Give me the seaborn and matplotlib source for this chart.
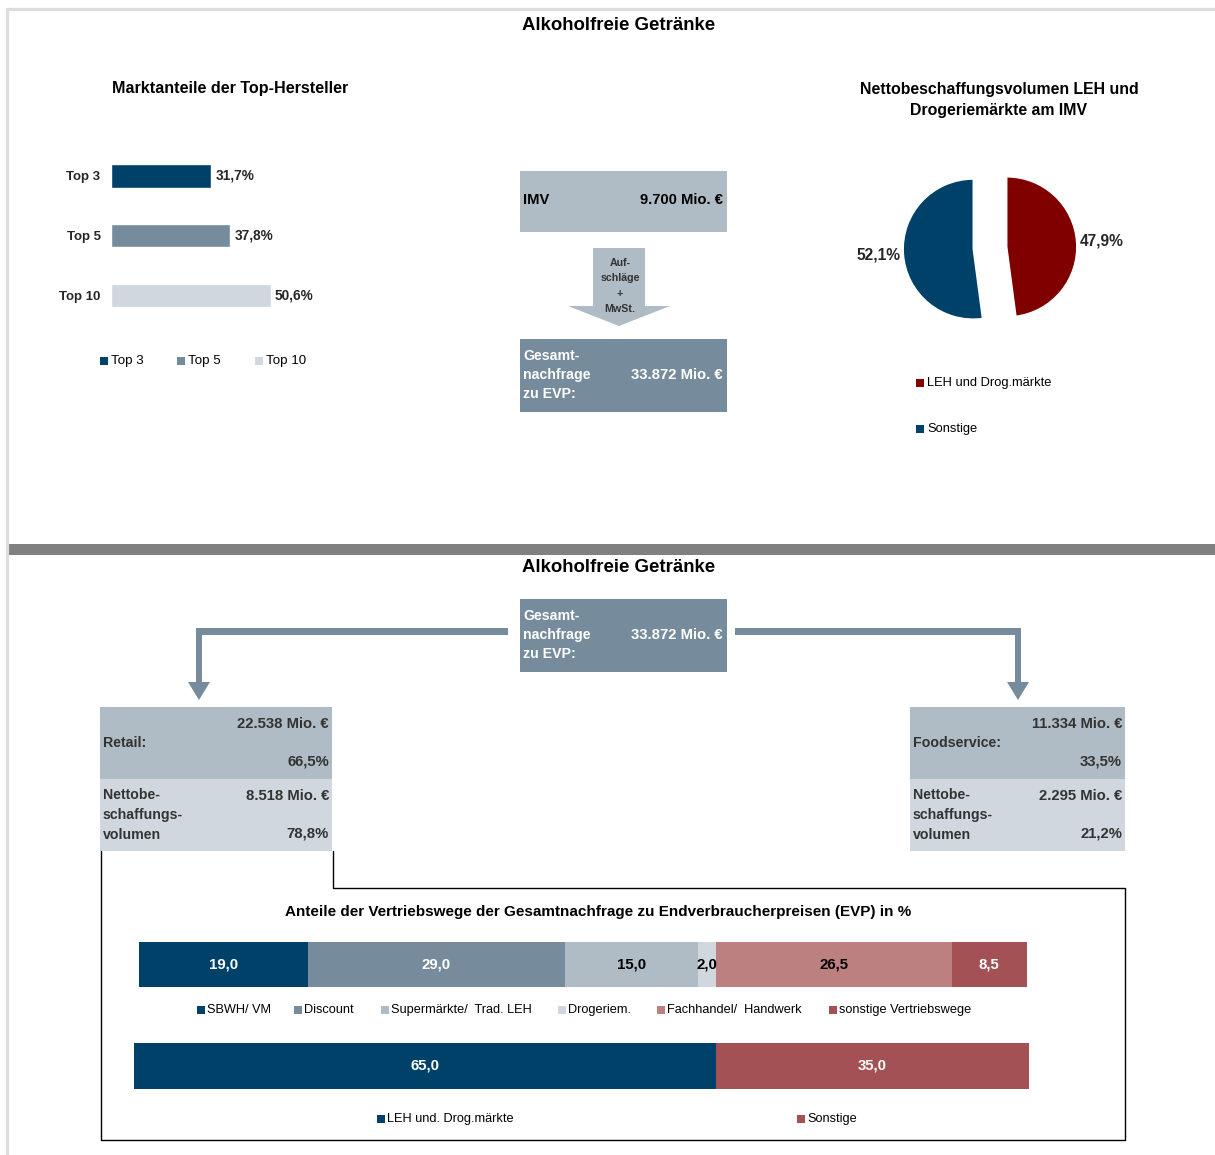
"""
Alkoholfreie Getraenke - Marktanteile, IMV und Vertriebswege
"""
#---------------------------------------------
# Import the libraries
import matplotlib
matplotlib.use("Agg")
import matplotlib.pyplot as plt
from matplotlib.patches import Rectangle, Polygon
import seaborn as sns
import pandas as pd

#---------------------------------------------
# Data
title = "Alkoholfreie Getränke"

top_labels = ["Top 3", "Top 5", "Top 10"]
top_shares = [31.7, 37.8, 50.6]

imv_value = "9.700 Mio. €"
demand_value = "33.872 Mio. €"
markup_text = "Auf-\nschläge\n+\nMwSt."

pie_labels = ["LEH und Drog.märkte", "Sonstige"]
pie_shares = [47.9, 52.1]

retail_value = "22.538 Mio. €"
retail_share = "66,5%"
retail_net = "8.518 Mio. €"
retail_net_share = "78,8%"
food_value = "11.334 Mio. €"
food_share = "33,5%"
food_net = "2.295 Mio. €"
food_net_share = "21,2%"

channel_labels = ["SBWH/ VM", "Discount", "Supermärkte/  Trad. LEH",
                  "Drogeriem.", "Fachhandel/  Handwerk", "sonstige Vertriebswege"]
channel_shares = [19.0, 29.0, 15.0, 2.0, 26.5, 8.5]

group_labels = ["LEH und. Drog.märkte", "Sonstige"]
group_shares = [65.0, 35.0]

#---------------------------------------------
# Styles
NAVY = "#00416a"
SLATE = "#768c9c"
LIGHT = "#b0bcc5"
PALE = "#d0d7de"
ROSE = "#bd8080"
BRICK = "#a35154"
MAROON = "#800000"
DARK_TXT = "#333333"

sns.set_theme(style="white")
plt.rcParams["font.family"] = ["Liberation Sans", "DejaVu Sans"]

W, H = 1215, 1155
fig = plt.figure(figsize=(W / 100, H / 100), dpi=100)

def px_axes(x0, y0, x1, y1):
    return fig.add_axes([x0 / W, 1 - y1 / H, (x1 - x0) / W, (y1 - y0) / H])

# overlay axes in pixel coordinates for boxes, arrows and frames
ov = fig.add_axes([0, 0, 1, 1], zorder=5)
ov.set_xlim(0, W)
ov.set_ylim(H, 0)
ov.axis("off")

def box(x0, y0, x1, y1, color):
    ov.add_patch(Rectangle((x0, y0), x1 - x0, y1 - y0, color=color, lw=0))

def txt(x, y, s, size=9, ha="left", color="black", weight="bold", **kw):
    ov.text(x, y, s, fontsize=size, ha=ha, va="center", color=color,
            fontweight=weight, **kw)

#---------------------------------------------
# Frames
ov.plot([6.5, 6.5, W], [H, 8.5, 8.5], color="#dddddd", lw=2.3, solid_joinstyle="miter")
ov.add_patch(Rectangle((8, 544), W - 8, 10.5, color="#808080", lw=0))
txt(619, 25, title, size=13.4, ha="center")
txt(619, 568, title, size=13.4, ha="center")

#---------------------------------------------
# Top left: market shares of top manufacturers
txt(230, 88, "Marktanteile der Top-Hersteller", size=11.6, ha="center")
ax1 = px_axes(111, 146, 111 + 315.5, 325.5)
df_top = pd.DataFrame({"label": top_labels, "share": top_shares})
sns.barplot(data=df_top, x="share", y="label", hue="label",
            palette=[NAVY, SLATE, PALE], width=0.39, legend=False,
            saturation=1, ax=ax1)
ax1.set_xlim(0, 100)
ax1.set_ylim(2.5, -0.5)
ax1.set_xlabel("")
ax1.set_ylabel("")
ax1.set_xticks([])
sns.despine(ax=ax1, left=True, bottom=True)
ax1.tick_params(axis="y", length=0, pad=7.5)
for t in ax1.get_yticklabels():
    t.set_fontweight("bold")
    t.set_fontsize(9.5)
for i, v in enumerate(top_shares):
    ax1.text(v + 1.4, i, f"{v:.1f}%".replace(".", ","), va="center",
             ha="left", fontsize=9.8, fontweight="bold")
for x, lab, col in zip([100, 177, 255], top_labels, [NAVY, SLATE, PALE]):
    box(x, 357, x + 8, 365, col)
    txt(x + 11, 361, lab, size=9.6, weight="normal")

#---------------------------------------------
# Top middle: IMV -> Gesamtnachfrage
box(520, 171, 727, 232, LIGHT)
txt(523, 200, "IMV", size=10.6)
txt(723, 200, imv_value, size=10.6, ha="right")
ov.add_patch(Polygon([(593, 248), (645, 248), (645, 306), (670, 306),
                      (619, 326), (568, 306), (593, 306)], color=LIGHT, lw=0))
ov.text(620, 286, markup_text, fontsize=7.7, ha="center", va="center",
        color=DARK_TXT, fontweight="bold", linespacing=1.65)
box(520, 339, 727, 412, SLATE)
txt(523, 375, "Gesamt-\nnachfrage\nzu EVP:", size=10.2, color="white", linespacing=1.5)
txt(723, 375, demand_value, size=10.7, color="white", ha="right")

#---------------------------------------------
# Top right: pie
txt(999, 100, "Nettobeschaffungsvolumen LEH und\nDrogeriemärkte am IMV", size=11.4,
    ha="center", linespacing=1.55)
ax2 = px_axes(990 - 112, 248 - 112, 990 + 112, 248 + 112)
ax2.pie(pie_shares, colors=[MAROON, NAVY], startangle=90, counterclock=False,
        explode=[0.24, 0.24], radius=1, pctdistance=1.36,
        autopct=lambda p: f"{p:.1f}%".replace(".", ","),
        textprops=dict(fontsize=11.2, fontweight="bold"))
ax2.set_xlim(-1.6, 1.6)
ax2.set_ylim(-1.6, 1.6)
ax2.set_aspect("equal")
for y, lab, col in zip([383, 429], pie_labels, [MAROON, NAVY]):
    box(916, y - 4, 924, y + 4, col)
    txt(927, y, lab, size=9.3, weight="normal")

#---------------------------------------------
# Bottom: Gesamtnachfrage split
box(520, 599, 727, 672, SLATE)
txt(523, 635, "Gesamt-\nnachfrage\nzu EVP:", size=10.2, color="white", linespacing=1.5)
txt(723, 635, demand_value, size=10.7, color="white", ha="right")

# connector arrows
ov.add_patch(Polygon([(508, 628), (508, 635), (202, 635), (202, 682),
                      (210, 682), (199, 700), (188, 682), (196, 682), (196, 628)],
                     color=SLATE, lw=0))
ov.add_patch(Polygon([(735, 628), (735, 635), (1015, 635), (1015, 682),
                      (1007, 682), (1018, 700), (1029, 682), (1021, 682), (1021, 628)],
                     color=SLATE, lw=0))

def split_box(x0, x1, name, value, share, net, net_share):
    box(x0, 707, x1, 779, LIGHT)
    box(x0, 779, x1, 851, PALE)
    txt(x0 + 3, 743, name, size=10.2, color=DARK_TXT)
    txt(x1 - 3, 724, value, size=10.7, color=DARK_TXT, ha="right")
    txt(x1 - 3, 761, share, size=10.7, color=DARK_TXT, ha="right")
    txt(x0 + 3, 815, "Nettobe-\nschaffungs-\nvolumen", size=10.2, color=DARK_TXT,
        linespacing=1.55)
    txt(x1 - 3, 796, net, size=10.7, color=DARK_TXT, ha="right")
    txt(x1 - 3, 833, net_share, size=10.7, color=DARK_TXT, ha="right")

split_box(100, 332, "Retail:", retail_value, retail_share, retail_net, retail_net_share)
split_box(910, 1125, "Foodservice:", food_value, food_share, food_net, food_net_share)

# black frame around the channel chart
ov.plot([100.5, 100.5, 1124.5, 1124.5, 332.5, 332.5],
        [851, 1139.5, 1139.5, 887.5, 887.5, 851], color="black", lw=1)

txt(598, 912, "Anteile der Vertriebswege der Gesamtnachfrage zu Endverbraucherpreisen (EVP) in %",
    size=11, ha="center")

def stacked_bar(ax, values, colors, label_colors):
    left = 0
    for v, c, lc in zip(values, colors, label_colors):
        ax.barh(0, v, left=left, height=1, color=c, lw=0)
        ax.text(left + v / 2, 0, f"{v:.1f}".replace(".", ","), ha="center",
                va="center", color=lc, fontsize=10.8, fontweight="bold")
        left += v
    ax.set_xlim(0, 100)
    ax.set_ylim(-0.5, 0.5)
    ax.axis("off")

ax3 = px_axes(139, 942, 1027, 987)
stacked_bar(ax3, channel_shares, [NAVY, SLATE, LIGHT, PALE, ROSE, BRICK],
            ["white", "white", "black", "black", "black", "white"])
for x, lab, col in zip([197, 294, 381, 558, 657, 829], channel_labels,
                       [NAVY, SLATE, LIGHT, PALE, ROSE, BRICK]):
    box(x, 1006, x + 8, 1014, col)
    txt(x + 10, 1010, lab, size=9.2, weight="normal")

ax4 = px_axes(134, 1043, 1029, 1089)
stacked_bar(ax4, group_shares, [NAVY, BRICK], ["white", "white"])
for x, lab, col in zip([377, 797], group_labels, [NAVY, BRICK]):
    box(x, 1115, x + 8, 1123, col)
    txt(x + 10, 1119, lab, size=9.2, weight="normal")

fig.savefig("out.png", dpi=100)
